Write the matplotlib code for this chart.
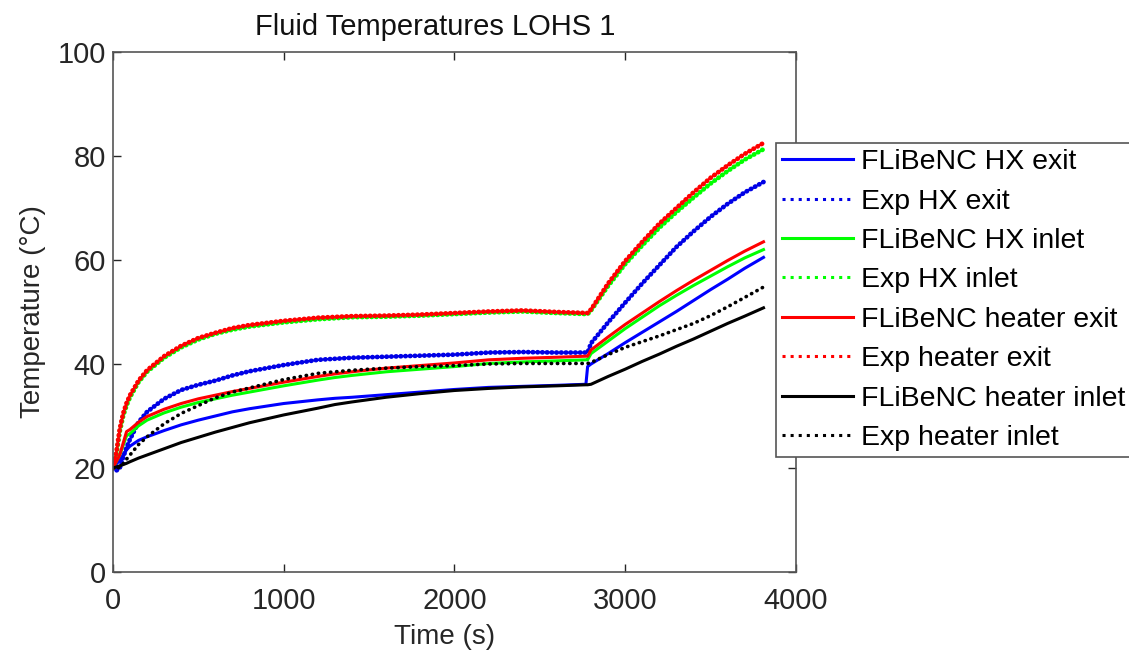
import matplotlib
matplotlib.use('Agg')
import matplotlib.pyplot as plt

plt.rcParams['font.family'] = ['Liberation Sans', 'DejaVu Sans']

# experimental time base (s)
t_exp = [0, 20, 40, 60, 80, 100, 150, 200, 300, 400, 500, 600, 700, 800,
         1000, 1200, 1400, 1600, 1800, 2000, 2200, 2400, 2600, 2780,
         2800, 2900, 3000, 3100, 3200, 3300, 3400, 3500, 3600, 3700, 3810]

exp_hx_exit = [20, 19.5, 20, 22, 24, 25.5, 28.8, 30.8, 33.3, 35, 36, 36.8, 37.8, 38.6,
               39.8, 40.8, 41.2, 41.4, 41.6, 41.8, 42.2, 42.3, 42.2, 42.2,
               44, 48, 51.8, 55.5, 59, 62.5, 65.5, 68.3, 70.8, 73, 75]
exp_hx_inlet = [20, 22.5, 27, 30, 32, 33.6, 36.5, 38.5, 41.2, 43.2, 44.7, 45.8, 46.6, 47.2,
                48, 48.6, 49, 49.1, 49.3, 49.6, 49.9, 50.1, 49.8, 49.6,
                50.3, 55, 59.2, 62.8, 66.2, 69.2, 72, 74.7, 77.1, 79.3, 81.3]
exp_heater_exit = [20, 23, 27.5, 30.5, 32.5, 34, 36.8, 38.8, 41.5, 43.5, 45, 46, 46.9, 47.5,
                   48.3, 48.9, 49.2, 49.3, 49.5, 49.8, 50.1, 50.3, 50, 49.8,
                   50.5, 55.5, 59.8, 63.5, 67, 70, 73, 75.8, 78.2, 80.4, 82.5]
exp_heater_inlet = [20, 19.8, 20.2, 20.8, 21.7, 22.5, 24.5, 26, 28.5, 30.5, 32, 33.5, 34.6, 35.4,
                    37, 38.2, 38.8, 39.2, 39.5, 39.7, 40, 40.1, 40.1, 40.1,
                    40.3, 41.8, 43.2, 44.3, 45.4, 46.6, 47.8, 49.3, 51, 52.8, 54.8]

# model time base (s)
t_mod = [0, 40, 80, 100, 150, 200, 300, 400, 500, 600, 700, 800, 1000, 1200, 1300,
         1400, 1600, 1800, 2000, 2200, 2400, 2600, 2770, 2780, 2800,
         2900, 3000, 3100, 3200, 3300, 3400, 3500, 3600, 3700, 3810]

mod_hx_exit = [20, 21.5, 23.5, 24.2, 25.3, 26, 27.2, 28.3, 29.2, 30, 30.8, 31.4, 32.4, 33.1, 33.4,
               33.6, 34.1, 34.6, 35.1, 35.5, 35.7, 35.9, 36.1, 39.5, 40,
               42, 44.1, 46.1, 48.1, 50.1, 52.2, 54.3, 56.3, 58.4, 60.5]
mod_hx_inlet = [20, 22.5, 26.2, 26.6, 28.1, 29.2, 30.6, 31.7, 32.6, 33.3, 34, 34.6, 35.8, 36.9, 37.4,
                37.8, 38.5, 39, 39.5, 40.1, 40.4, 40.6, 40.8, 40.8, 42,
                44.4, 46.8, 49, 51.2, 53.2, 55.1, 56.9, 58.7, 60.4, 62]
mod_heater_exit = [20, 22.5, 27, 27.4, 28.8, 29.9, 31.3, 32.4, 33.3, 34, 34.7, 35.3, 36.5, 37.6, 38.1,
                   38.5, 39.2, 39.7, 40.2, 40.8, 41.1, 41.3, 41.5, 41.5, 42.7,
                   45.2, 47.6, 49.8, 52, 54.1, 56.1, 58, 59.9, 61.7, 63.5]
mod_heater_inlet = [20, 20.4, 20.9, 21.2, 21.9, 22.5, 23.7, 24.9, 25.9, 26.9, 27.8, 28.7, 30.2, 31.5, 32.2,
                    32.7, 33.6, 34.3, 34.9, 35.3, 35.6, 35.8, 36, 36, 36.1,
                    37.6, 39, 40.5, 41.9, 43.4, 44.8, 46.3, 47.8, 49.2, 50.8]

labels = ['FLiBeNC HX exit', 'Exp HX exit', 'FLiBeNC HX inlet', 'Exp HX inlet',
          'FLiBeNC heater exit', 'Exp heater exit', 'FLiBeNC heater inlet', 'Exp heater inlet']

fig = plt.figure(figsize=(11.29, 6.54), dpi=100)
ax = fig.add_axes([0.100, 0.1254, 0.605, 0.7951])

# experimental traces: dense round dots that read almost as a solid, beaded line
exp_kw = dict(lw=3.4, ls=(0, (0.1, 0.9)), dash_capstyle='round')
ax.plot(t_mod, mod_hx_exit, color='#0000ff', lw=2.2, label=labels[0])
ax.plot(t_exp, exp_hx_exit, color='#0000e6', label=labels[1], **exp_kw)
ax.plot(t_mod, mod_hx_inlet, color='#00ff00', lw=2.2, label=labels[2])
ax.plot(t_exp, exp_hx_inlet, color='#00ff00', label=labels[3], **exp_kw)
ax.plot(t_mod, mod_heater_exit, color='#ff0000', lw=2.2, label=labels[4])
ax.plot(t_exp, exp_heater_exit, color='#ff0000', label=labels[5], **exp_kw)
ax.plot(t_mod, mod_heater_inlet, color='black', lw=2.2, label=labels[6])
ax.plot(t_exp, exp_heater_inlet, color='black', lw=2.6, ls=(0, (0.1, 1.6)),
        dash_capstyle='round', label=labels[7])

ax.set_xlim(0, 4000)
ax.set_ylim(0, 100)
ax.set_xticks([0, 1000, 2000, 3000, 4000])
ax.set_yticks([0, 20, 40, 60, 80, 100])
ax.tick_params(direction='in', top=True, right=True, length=6, width=1,
               labelsize=21, colors='#262626')
ax.tick_params(axis='x', pad=11)
ax.tick_params(axis='y', pad=5)
for s in ax.spines.values():
    s.set_color('#555555')
    s.set_linewidth(1.2)

ax.set_title('Fluid Temperatures LOHS 1', fontsize=21, color='#111111', x=0.472, pad=12)
ax.set_xlabel('Time (s)', fontsize=20, color='#262626')
ax.set_ylabel('Temperature (°C)', fontsize=20, color='#262626', labelpad=8)
ax.xaxis.set_label_coords(0.485, -0.1)

leg = ax.legend(loc='upper left', bbox_to_anchor=(776 / 1129, 1 - 143 / 654),
                bbox_transform=fig.transFigure, fontsize=20.5, handlelength=2.5,
                handletextpad=0.25, labelspacing=0.47, borderpad=0.22, borderaxespad=0,
                fancybox=False, framealpha=1, edgecolor='#555555')
leg.get_frame().set_linewidth(1.2)
for i, ln in enumerate(leg.get_lines()):
    if i % 2 == 1:
        ln.set_linestyle(':')
        ln.set_dash_capstyle('butt')
        ln.set_linewidth(2.2)

fig.savefig('out.png', dpi=100)
